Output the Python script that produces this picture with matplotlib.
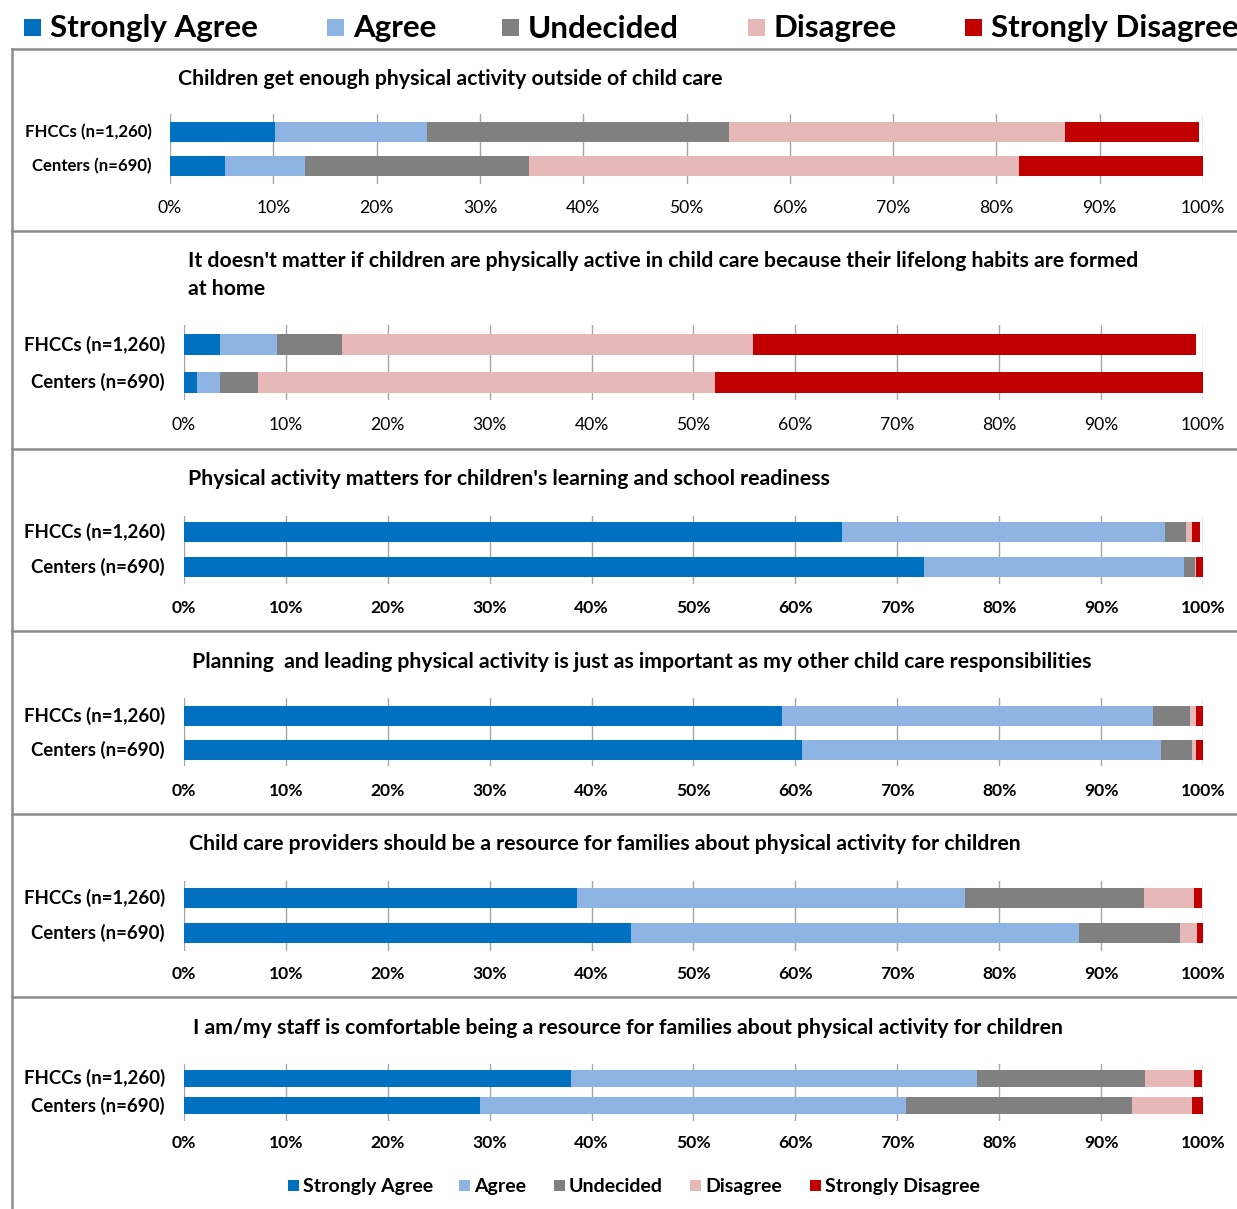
import matplotlib
matplotlib.use("Agg")
import matplotlib.pyplot as plt
from matplotlib.patches import Rectangle
from matplotlib.lines import Line2D

W, H = 1237, 1209
plt.rcParams['font.family'] = ['Lato', 'DejaVu Sans']

# ---- data -------------------------------------------------------------
responses = ['Strongly Agree', 'Agree', 'Undecided', 'Disagree', 'Strongly Disagree']
colors = ['#0070C0', '#8EB4E3', '#808080', '#E6B9B8', '#C00000']
groups = ['FHCCs (n=1,260)', 'Centers (n=690)']
tick_values = [0, 10, 20, 30, 40, 50, 60, 70, 80, 90, 100]

statements = [
    "Children get enough physical activity outside of child care",
    "It doesn't matter if children are physically active in child care because their lifelong habits are formed\nat home",
    "Physical activity matters for children's learning and school readiness",
    "Planning  and leading physical activity is just as important as my other child care responsibilities",
    "Child care providers should be a resource for families about physical activity for children",
    "I am/my staff is comfortable being a resource for families about physical activity for children",
]

# percentages: Strongly Agree, Agree, Undecided, Disagree, Strongly Disagree
outside_fhcc = [10.2, 14.7, 29.2, 32.5, 13.0]
outside_centers = [5.3, 7.8, 21.7, 47.4, 17.8]
habits_fhcc = [3.5, 5.6, 6.4, 40.3, 43.5]
habits_centers = [1.3, 2.2, 3.8, 44.8, 47.9]
learning_fhcc = [64.6, 31.7, 2.0, 0.6, 0.8]
learning_centers = [72.6, 25.5, 1.1, 0.1, 0.7]
planning_fhcc = [58.7, 36.4, 3.6, 0.6, 0.7]
planning_centers = [60.6, 35.3, 3.0, 0.4, 0.7]
resource_fhcc = [38.6, 38.0, 17.6, 4.9, 0.8]
resource_centers = [43.9, 43.9, 9.9, 1.7, 0.6]
comfortable_fhcc = [38.0, 39.8, 16.5, 4.8, 0.8]
comfortable_centers = [29.0, 41.9, 22.1, 5.9, 1.1]

panel_data = [
    (outside_fhcc, outside_centers),
    (habits_fhcc, habits_centers),
    (learning_fhcc, learning_centers),
    (planning_fhcc, planning_centers),
    (resource_fhcc, resource_centers),
    (comfortable_fhcc, comfortable_centers),
]

# ---- layout (pixels) -------------------------------------------------
layout = [
    dict(x0=170, x1=1203, gt=114, gb=184, rows=(132, 166), bh=20, tx=178, ty=79,
         lx=152, lsize=12.1, tky=208, tkbold=False),
    dict(x0=184, x1=1203, gt=325, gb=400, rows=(344.7, 382), bh=21, tx=188, ty=275,
         lx=165, lsize=13.4, tky=425, tkbold=False),
    dict(x0=184, x1=1203, gt=516, gb=584, rows=(532, 567), bh=20, tx=188, ty=479,
         lx=165, lsize=13.4, tky=608, tkbold=True),
    dict(x0=184, x1=1203, gt=698, gb=766, rows=(715.7, 749.7), bh=20, tx=192, ty=662,
         lx=165, lsize=13.4, tky=791, tkbold=True),
    dict(x0=184, x1=1203, gt=881, gb=951, rows=(898.3, 932.8), bh=20, tx=189, ty=844,
         lx=165, lsize=13.4, tky=974, tkbold=True),
    dict(x0=184, x1=1203, gt=1064, gb=1121, rows=(1078, 1105.5), bh=17, tx=193, ty=1028,
         lx=165, lsize=13.4, tky=1143, tkbold=True),
]
borders = [49, 231, 449, 631, 814, 997]

fig = plt.figure(figsize=(W / 100, H / 100), dpi=100)


def fx(px):
    return px / W


def fy(py):
    return 1 - py / H


# panel frames
for yb in borders:
    fig.add_artist(Line2D([fx(12), 1.0], [fy(yb), fy(yb)], color='#8C8C8C', lw=1.8))
fig.add_artist(Line2D([fx(12), fx(12)], [fy(49), 0], color='#8C8C8C', lw=1.8))

for (fh, ce), stmt, L in zip(panel_data, statements, layout):
    ax = fig.add_axes([fx(L['x0']), fy(L['gb']), (L['x1'] - L['x0']) / W, (L['gb'] - L['gt']) / H])
    r0, r1 = L['rows']
    sp = r1 - r0
    top = 0 - (r0 - L['gt']) / sp
    bot = 1 + (L['gb'] - r1) / sp
    ax.set_ylim(bot, top)
    ax.set_xlim(0, 100)
    height = L['bh'] / sp
    for gi, vals in enumerate((fh, ce)):
        left = 0
        for v, c in zip(vals, colors):
            ax.barh(gi, v, left=left, height=height, color=c, edgecolor='none', zorder=3)
            left += v
    ax.set_xticks(tick_values)
    ax.grid(axis='x', color='#A6A6A6', lw=1.0, zorder=0)
    for s in ax.spines.values():
        s.set_visible(False)
    ax.tick_params(length=0)
    ax.set_yticks([0, 1])
    ax.set_yticklabels([])
    ax.set_xticklabels([])
    for gi, g in enumerate(groups):
        fig.text(fx(L['lx']), fy(L['rows'][gi]), g, ha='right', va='center',
                 fontsize=L['lsize'], fontweight='bold', color='#000000')
    for t in tick_values:
        xp = L['x0'] + (L['x1'] - L['x0']) * t / 100
        fig.text(fx(xp), fy(L['tky']), f"{t}%", ha='center', va='center', fontsize=12.6,
                 fontweight='bold' if L['tkbold'] else 'normal', color='#000000')
    fig.text(fx(L['tx']), fy(L['ty']), stmt, ha='left', va='center', fontsize=15.3,
             fontweight='bold', color='#000000', linespacing=1.45)

# top legend
top_items = [24, 327, 502, 748, 965]
for xp, lab, c in zip(top_items, responses, colors):
    fig.add_artist(Rectangle((fx(xp), fy(36)), 17 / W, 17 / H, facecolor=c, edgecolor='none'))
    fig.text(fx(xp + 26), fy(26), lab, ha='left', va='center_baseline', fontsize=22.6,
             fontweight='bold', color='#000000')

# bottom legend
bot_items = [288, 459, 554, 690, 810]
for xp, lab, c in zip(bot_items, responses, colors):
    fig.add_artist(Rectangle((fx(xp), fy(1191)), 11 / W, 11 / H, facecolor=c, edgecolor='none'))
    fig.text(fx(xp + 15), fy(1185), lab, ha='left', va='center_baseline', fontsize=14,
             fontweight='bold', color='#000000')

fig.savefig('out.png', dpi=100)
